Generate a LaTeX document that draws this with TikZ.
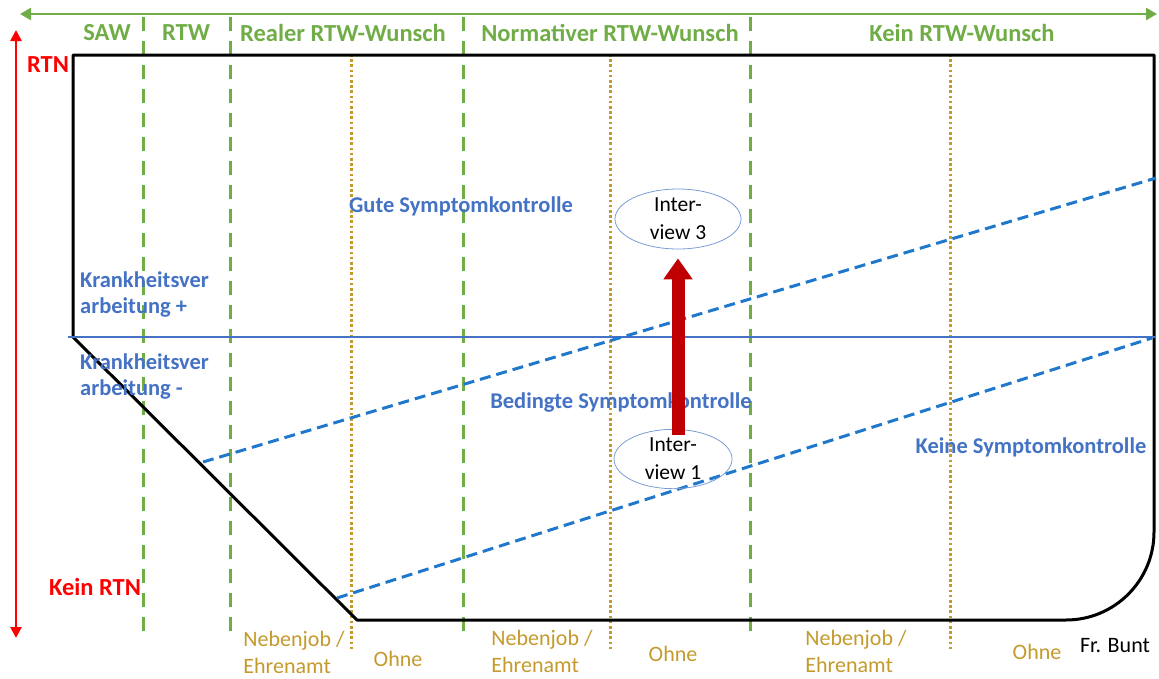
\documentclass[tikz,border=0pt]{standalone}
\usepackage{fontspec}
\setmainfont{Carlito}
\usetikzlibrary{arrows.meta,shapes.geometric}
\definecolor{hgreen}{HTML}{70AD47}
\definecolor{lblue}{HTML}{4472C4}
\definecolor{dblue}{HTML}{1F78CC}
\definecolor{gold}{HTML}{C49A2C}
\definecolor{dred}{HTML}{C00000}
\definecolor{bred}{HTML}{FF0000}
\tikzset{
  hdr/.style={text=hgreen,font=\fontsize{24.5}{28}\selectfont\bfseries,inner sep=0pt},
  bl/.style={text=lblue,font=\fontsize{22.5}{26}\selectfont\bfseries,inner sep=0pt},
  gl/.style={text=gold,font=\fontsize{22}{27}\selectfont,inner sep=0pt,align=left},
  rl/.style={text=bred,font=\fontsize{24.5}{28}\selectfont\bfseries,inner sep=0pt},
  greendash/.style={draw=hgreen,line width=3pt,dash pattern=on 14pt off 10pt},
  golddot/.style={draw=gold,line width=3pt,dash pattern=on 2.6pt off 2.6pt},
  bluedash/.style={draw=dblue,line width=3pt,dash pattern=on 11pt off 6pt},
  iv/.style={ellipse,draw=lblue!70,line width=0.8pt,minimum width=#1,align=center,
    font=\fontsize{21.5}{28}\selectfont,inner sep=0pt},
}
\begin{document}
\begin{tikzpicture}[x=1pt,y=-1pt]
\useasboundingbox (0,0) rectangle (1159,678);
% top green axis
\coordinate (gl) at (20,14);
\coordinate (gr) at (1157,14);
\draw[hgreen,line width=2.5pt,{Triangle[width=12pt,length=11pt]}-{Triangle[width=12pt,length=11pt]}] (gl) -- (gr);
% left red axis
\coordinate (rt) at (16,30);
\coordinate (rb) at (16,638);
\draw[bred,line width=2.5pt,{Triangle[width=11pt,length=11pt]}-{Triangle[width=11pt,length=11pt]}] (rt) -- (rb);
% green dashed lines
\foreach \x/\n in {143/a,230/b,463/c,750/d}{
  \coordinate (gt\n) at (\x,17);
  \coordinate (gb\n) at (\x,641);
  \draw[greendash] (gt\n) -- (gb\n);
}
% gold dotted lines
\foreach \x/\n in {351/a,610/b,950/c}{
  \coordinate (ot\n) at (\x,54);
  \coordinate (ob\n) at (\x,652);
  \draw[golddot] (ot\n) -- (ob\n);
}
% black outline
\coordinate (tl) at (73,55);
\coordinate (tr) at (1154,55);
\coordinate (ml) at (73,337);
\coordinate (bl) at (357,620);
\coordinate (br) at (1154,620);
\draw[line width=3pt,line join=round,rounded corners=0pt] (ml) -- (tl) -- (tr) [rounded corners=88pt]-- (br) [rounded corners=0pt]-- (bl) -- cycle;
% blue horizontal
\coordinate (hl) at (68,337);
\coordinate (hr) at (1156,337);
\draw[lblue,line width=2.5pt] (hl) -- (hr);
% blue dashed
\coordinate (d1a) at (203,462);
\coordinate (d1b) at (1156,178);
\coordinate (d2a) at (337,598);
\coordinate (d2b) at (1152,338);
\draw[bluedash] (d1a) -- (d1b);
\draw[bluedash] (d2a) -- (d2b);
% header labels
\node[hdr] (saw) at (107,33) {SAW};
\node[hdr] (rtw) at (186,33) {RTW};
\node[hdr] (real) at (343,33) {Realer RTW-Wunsch};
\node[hdr] (norm) at (610,33) {Normativer RTW-Wunsch};
\node[hdr] (kein) at (962,33) {Kein RTW-Wunsch};
% red labels
\node[rl] (rtn) at (48,65) {RTN};
\node[rl] (krtn) at (95,587) {Kein RTN};
% blue labels
\node[bl,anchor=west,align=left] (kvp) at (80,295) {Krankheitsver\\arbeitung +};
\node[bl,anchor=west,align=left] (kvm) at (80,377) {Krankheitsver\\arbeitung -};
\node[bl] (gute) at (461,206) {Gute Symptomkontrolle};
\node[bl] (bed) at (621,403) {Bedingte Symptomkontrolle};
\node[bl] (keine) at (1031,447) {Keine Symptomkontrolle};
% interviews
\node[iv=126pt,minimum height=60pt,fill=white] (i3) at (678,219) {Inter-\\view 3};
\node[iv=118pt,minimum height=58pt] (i1) at (673,459) {Inter-\\view 1};
\draw[dred,line width=13pt,-{Triangle[width=28pt,length=21pt]},shorten <=-6pt,shorten >=9pt] (i1.north -| i3.south) -- (i3.south);
% bottom labels
\node[gl] (n1) at (294,652) {Nebenjob /\\Ehrenamt};
\node[gl] (o1) at (398,659) {Ohne};
\node[gl] (n2) at (542,651) {Nebenjob /\\Ehrenamt};
\node[gl] (o2) at (673,654) {Ohne};
\node[gl] (n3) at (856,651) {Nebenjob /\\Ehrenamt};
\node[gl] (o3) at (1037,652) {Ohne};
\node[font=\fontsize{22}{24}\selectfont,inner sep=0pt] (fb) at (1115,646) {Fr. Bunt};
\end{tikzpicture}
\end{document}
